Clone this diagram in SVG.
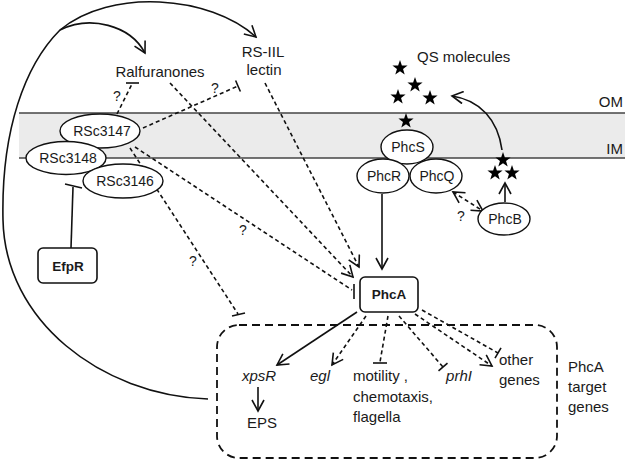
<svg xmlns="http://www.w3.org/2000/svg" width="625" height="461" viewBox="0 0 625 461">
<style>
text{font-family:"Liberation Sans",Arial,sans-serif;fill:#1a1a1a;}
.lbl{font-size:15px;}
.nl{font-size:14px;text-anchor:middle;}
.b{font-weight:bold;font-size:13.5px;text-anchor:middle;}
.it{font-style:italic;}
.q{font-size:14px;text-anchor:middle;}
.ln{fill:none;stroke:#111;stroke-width:1.6;}
.dsh{fill:none;stroke:#111;stroke-width:1.6;stroke-dasharray:4 3;}
.bar{fill:none;stroke:#111;stroke-width:1.6;}
.ell{fill:#fff;stroke:#111;stroke-width:1.4;}
.box{fill:#fff;stroke:#111;stroke-width:1.6;}
.mem{stroke:#444;stroke-width:1.4;}
</style>
<defs>
<marker id="arr" markerUnits="userSpaceOnUse" markerWidth="14" markerHeight="14" viewBox="0 0 14 14" refX="12" refY="7" orient="auto-start-reverse">
<path d="M1,1 L12,7 L1,13" fill="none" stroke="#111" stroke-width="1.6" stroke-dasharray="none"/>
</marker>
<polygon id="star" points="0,-8 1.88,-2.59 7.61,-2.47 3.04,0.99 4.7,6.47 0,3.2 -4.7,6.47 -3.04,0.99 -7.61,-2.47 -1.88,-2.59" fill="#000"/>
</defs>
<rect width="625" height="461" fill="#fff"/>
<g id="membrane">
<rect x="19" y="113" width="606" height="45" fill="#ebebeb"/>
<line class="mem" x1="19" y1="113" x2="625" y2="113"/>
<line class="mem" x1="19" y1="158" x2="625" y2="158"/>
<text class="lbl" x="623" y="107" text-anchor="end">OM</text>
<text class="lbl" x="623" y="154" text-anchor="end">IM</text>
</g>
<g id="connectors">
<path class="ln" d="M208,399 C100,395 5,320 3,220 C1,130 25,65 60,30 C110,-12 210,-5 256,37" marker-end="url(#arr)"/>
<path class="ln" d="M60,30 C90,15 130,25 145,53" marker-end="url(#arr)"/>
<path class="dsh" d="M117,114 L132,84"/>
<path class="bar" d="M126,83 L139,83"/>
<path class="dsh" d="M143,128 L238,86"/>
<path class="bar" d="M235.6,80.5 L240.4,91.5"/>
<path class="dsh" d="M170,83 L353,277" marker-end="url(#arr)"/>
<path class="dsh" d="M265,83 L359,267" marker-end="url(#arr)"/>
<path class="dsh" d="M135,147 L352,290"/>
<path class="bar" d="M354,284 L354,299"/>
<path class="dsh" d="M130,148 L238,314"/>
<path class="bar" d="M232,316 L245,313"/>
<path class="ln" d="M71,248 L73,187"/>
<path class="bar" d="M65,184 L82,188"/>
<path class="ln" d="M382,194 L382,269" marker-end="url(#arr)"/>
<path class="dsh" d="M453,192 L483,211" marker-start="url(#arr)" marker-end="url(#arr)"/>
<path class="ln" d="M505,202 L505,183" marker-end="url(#arr)"/>
<path class="ln" d="M502,150 C498,120 480,100 452,96" marker-end="url(#arr)"/>
<path class="ln" d="M357,312 L277,365" marker-end="url(#arr)"/>
<path class="dsh" d="M366,316 L332,365" marker-end="url(#arr)"/>
<path class="dsh" d="M388,316 L380,362"/>
<path class="bar" d="M373,363 L387,363"/>
<path class="dsh" d="M399,316 L443,367"/>
<path class="bar" d="M438.5,370.9 L447.5,363.1"/>
<path class="dsh" d="M415,314 L492,366" marker-end="url(#arr)"/>
<path class="dsh" d="M422,310 L498,353"/>
<path class="bar" d="M495,358.2 L501,347.8"/>
<path class="ln" d="M258,387 L258,411" marker-end="url(#arr)"/>
<text class="q" x="117" y="101">?</text>
<text class="q" x="215" y="93">?</text>
<text class="q" x="243" y="235">?</text>
<text class="q" x="193" y="266">?</text>
<text class="q" x="461" y="221">?</text>
</g>
<g id="stars">
<use href="#star" x="400" y="68"/>
<use href="#star" x="415" y="85"/>
<use href="#star" x="398" y="97"/>
<use href="#star" x="430" y="98"/>
<use href="#star" x="406" y="121"/>
<use href="#star" x="503" y="160"/>
<use href="#star" x="495" y="173"/>
<use href="#star" x="512" y="173"/>
<text class="lbl" x="417" y="62">QS molecules</text>
</g>
<g id="ralfuranones"><text class="lbl" x="160" y="77" text-anchor="middle">Ralfuranones</text></g>
<g id="rsiil"><text class="lbl" x="263" y="57" text-anchor="middle">RS-IIL</text><text class="lbl" x="264" y="75" text-anchor="middle">lectin</text></g>
<g id="RSc3147"><ellipse class="ell" cx="100" cy="131" rx="40" ry="17"/><text class="nl" x="102" y="136">RSc3147</text></g>
<g id="RSc3148"><ellipse class="ell" cx="66" cy="158" rx="40" ry="16.5"/><text class="nl" x="68" y="163">RSc3148</text></g>
<g id="RSc3146"><ellipse class="ell" cx="123" cy="181" rx="40" ry="17"/><text class="nl" x="125" y="186">RSc3146</text></g>
<g id="EfpR"><rect class="box" x="38" y="248" width="59" height="35" rx="5"/><text class="b" x="68" y="271">EfpR</text></g>
<g id="PhcS"><ellipse class="ell" cx="407" cy="147" rx="26" ry="17"/><text class="nl" x="408" y="152">PhcS</text></g>
<g id="PhcR"><ellipse class="ell" cx="383" cy="176" rx="26" ry="17"/><text class="nl" x="384" y="181">PhcR</text></g>
<g id="PhcQ"><ellipse class="ell" cx="436" cy="176" rx="26" ry="17"/><text class="nl" x="437" y="181">PhcQ</text></g>
<g id="PhcB"><ellipse class="ell" cx="504" cy="219" rx="26" ry="16"/><text class="nl" x="505" y="224">PhcB</text></g>
<g id="PhcA"><rect class="box" x="360" y="277" width="58" height="35" rx="5"/><text class="b" x="389" y="299">PhcA</text></g>
<g id="targets">
<rect x="217" y="325" width="340" height="133" rx="22" fill="none" stroke="#111" stroke-width="1.8" stroke-dasharray="8 5"/>
<text class="lbl it" x="259" y="381" text-anchor="middle">xpsR</text>
<text class="lbl" x="262" y="428" text-anchor="middle">EPS</text>
<text class="lbl it" x="320" y="381" text-anchor="middle">egl</text>
<text class="lbl" x="353" y="381">motility ,</text>
<text class="lbl" x="353" y="402">chemotaxis,</text>
<text class="lbl" x="353" y="422">flagella</text>
<text class="lbl it" x="459" y="381" text-anchor="middle">prhI</text>
<text class="lbl" x="499" y="365">other</text>
<text class="lbl" x="499" y="385">genes</text>
<text class="lbl" x="568" y="372">PhcA</text>
<text class="lbl" x="568" y="392">target</text>
<text class="lbl" x="568" y="412">genes</text>
</g>
</svg>
